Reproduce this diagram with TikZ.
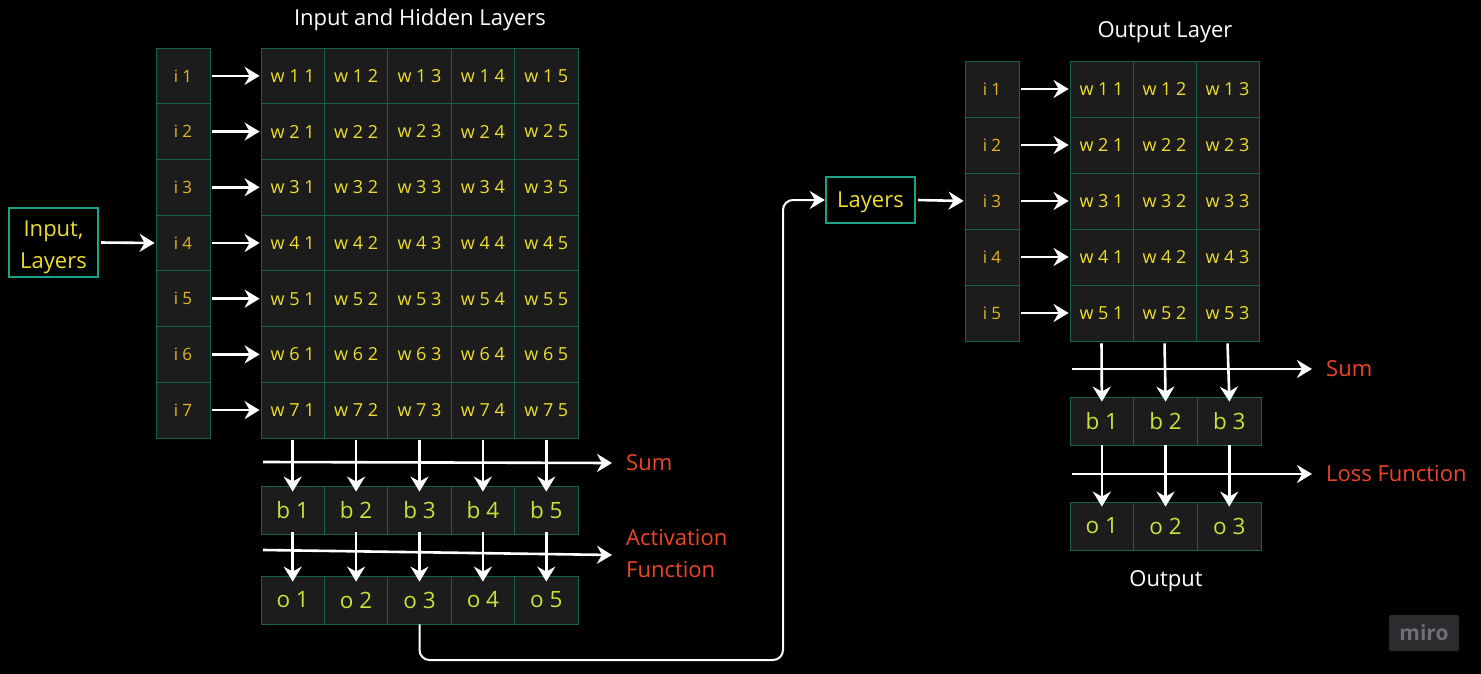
\documentclass[tikz,border=0pt]{standalone}
\usepackage{fontspec}
\setmainfont{Open Sans}
\usetikzlibrary{arrows.meta}
\definecolor{cellfill}{HTML}{1C1C1C}
\definecolor{celledge}{HTML}{17604F}
\definecolor{wtext}{HTML}{EDDD2F}
\definecolor{itext}{HTML}{E3B523}
\definecolor{btext}{HTML}{CDE03A}
\definecolor{redtext}{HTML}{EE4426}
\definecolor{boxedge}{HTML}{1AA388}
\definecolor{mirofill}{HTML}{2C2C2E}
\definecolor{mirotext}{HTML}{6E6E78}
\begin{document}
\begin{tikzpicture}[x=1pt,y=-1pt,
  cell/.style={draw=celledge, fill=cellfill, line width=0.8pt, inner sep=0pt},
  icell/.style={cell, text=itext, font=\fontsize{17}{19}\selectfont},
  wcell/.style={cell, text=wtext, font=\fontsize{18}{20}\selectfont},
  bcell/.style={cell, text=btext, font=\fontsize{22.5}{25}\selectfont},
  arr/.style={draw=white, line width=2.6pt, -{Stealth[length=15pt, width=18pt, inset=5pt]}},
  redlabel/.style={text=redtext, font=\fontsize{22}{32}\selectfont, inner sep=0pt, anchor=west, align=left},
  title/.style={text=white, font=\fontsize{22}{24}\selectfont, inner sep=0pt},
  tealbox/.style={draw=boxedge, line width=2.4pt, fill=black, text=wtext, align=center, font=\fontsize{22}{31}\selectfont, inner sep=0pt}
]
\useasboundingbox (0,0) rectangle (1481,674);
\fill[black] (0,0) rectangle (1481,674);

% ---------- left part ----------
\node[title] (titleL) at (420,20) {Input and Hidden Layers};
\foreach \r in {1,...,7} {
  \node[icell, minimum width=54pt, minimum height=55.71pt] (iL\r) at (183,{48+55.71*(\r-0.5)}) {i\ \r};
  \foreach \c in {1,...,5}
    \node[wcell, minimum width=63.4pt, minimum height=55.71pt] (wL\r\c) at ({261+63.4*(\c-0.5)},{48+55.71*(\r-0.5)}) {w\ \r\ \c};
}
\foreach \c in {1,...,5} {
  \node[bcell, minimum width=63.4pt, minimum height=48pt] (bL\c) at ({261+63.4*(\c-0.5)},510) {b\ \c};
  \node[bcell, minimum width=63.4pt, minimum height=48pt] (oL\c) at ({261+63.4*(\c-0.5)},600) {o\ \c};
}
\foreach \r in {1,...,7}
  \draw[arr, shorten <=2pt, shorten >=1pt] (iL\r.east) -- (wL\r1.west);
\foreach \c in {1,...,5} {
  \draw[arr, shorten <=2pt, shorten >=-6pt] (wL7\c.south) -- (bL\c.north);
  \draw[arr, shorten <=-2pt, shorten >=-6pt] (bL\c.south) -- (oL\c.north);
}
\node[tealbox, minimum width=89pt, minimum height=69pt] (inbox) at (53.5,242.5) {\raisebox{-10pt}[0pt][0pt]{Input,}\\\raisebox{-10pt}[0pt][0pt]{Layers}};
\draw[arr, shorten <=2pt, shorten >=1pt] (inbox.east) -- (iL4.west);

\node[redlabel] (sumL) at (626,463) {Sum};
\coordinate (sumLs) at (263,462);
\draw[arr] (sumLs) -- ([xshift=-14pt]sumL.west);
\node[redlabel] (actL) at (626,554) {Activation\\Function};
\coordinate (actLs) at (263,550);
\draw[arr] (actLs) -- ([xshift=-14pt,yshift=-1pt]actL.west);

% ---------- connector ----------
\node[tealbox, minimum width=89pt, minimum height=46pt] (layers) at (870.5,200) {\raisebox{-8pt}[0pt][0pt]{Layers}};
\coordinate (turn) at (783,660);
\draw[arr, line width=2pt, rounded corners=10pt] (oL3.south) |- (turn) |- (layers.west);

% ---------- right part ----------
\node[title] (titleR) at (1165,32) {Output Layer};
\foreach \r in {1,...,5} {
  \node[icell, minimum width=54pt, minimum height=56pt] (iR\r) at (992,{61+56*(\r-0.5)}) {i\ \r};
  \foreach \c in {1,2,3}
    \node[wcell, minimum width=63pt, minimum height=56pt] (wR\r\c) at ({1070+63*(\c-0.5)},{61+56*(\r-0.5)}) {w\ \r\ \c};
}
\foreach \c in {1,2,3} {
  \node[bcell, minimum width=63.7pt, minimum height=48pt] (bR\c) at ({1070+63.7*(\c-0.5)},421) {b\ \c};
  \node[bcell, minimum width=63.7pt, minimum height=48pt] (oR\c) at ({1070+63.7*(\c-0.5)},526) {o\ \c};
}
\draw[arr, shorten <=2pt, shorten >=1pt] (layers.east) -- (iR3.west);
\foreach \r in {1,...,5}
  \draw[arr, shorten <=2pt, shorten >=1pt] (iR\r.east) -- (wR\r1.west);
\foreach \c in {1,2,3} {
  \draw[arr, shorten <=2pt, shorten >=-5pt] (wR5\c.south) -- (bR\c.north);
  \draw[arr, shorten <=0pt, shorten >=-5pt] (bR\c.south) -- (oR\c.north);
}
\node[redlabel] (sumR) at (1326,369) {Sum};
\coordinate (sumRs) at (1072,369);
\draw[arr] (sumRs) -- ([xshift=-14pt]sumR.west);
\node[redlabel] (lossR) at (1326,474) {Loss Function};
\coordinate (lossRs) at (1072,474);
\draw[arr] (lossRs) -- ([xshift=-14pt]lossR.west);
\node[title] (outR) at (1166,581) {Output};

% ---------- logo ----------
\node[fill=mirofill, rounded corners=2pt, minimum width=70pt, minimum height=36pt, inner sep=0pt, text=mirotext, font=\fontsize{21}{21}\selectfont\bfseries] (miro) at (1424,633) {miro};
\end{tikzpicture}
\end{document}
